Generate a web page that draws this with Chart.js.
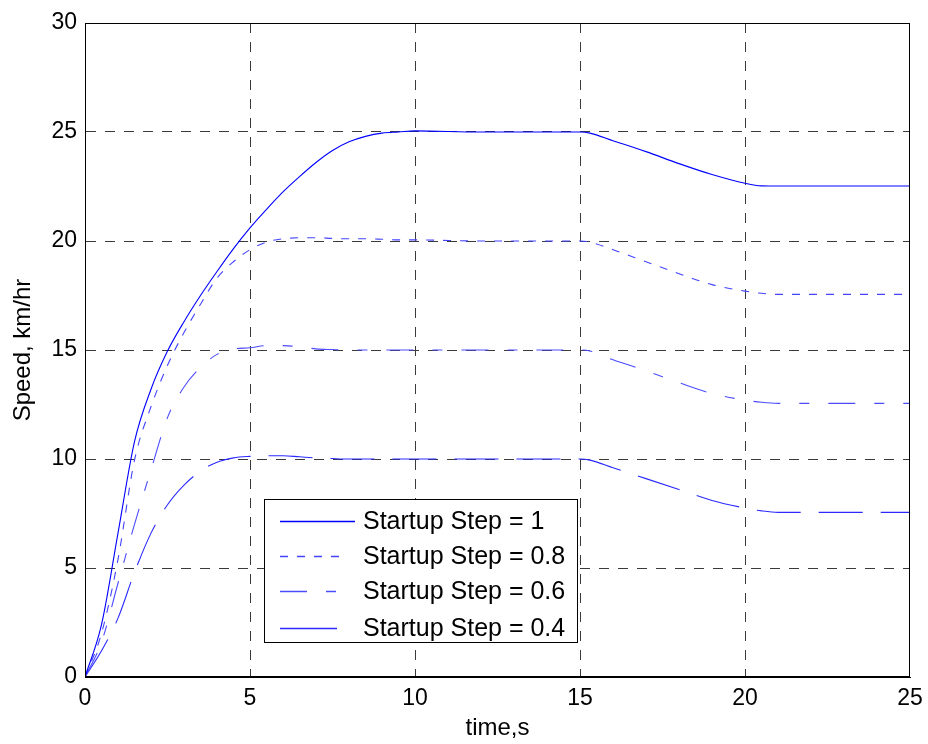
<!DOCTYPE html>
<html>
<head>
<meta charset="utf-8">
<script src="https://cdn.jsdelivr.net/npm/chart.js@4.4.1/dist/chart.umd.min.js"></script>
<style>
  html, body { margin: 0; padding: 0; background: #fff; }
  #wrap { width: 928px; height: 744px; position: relative; }
</style>
</head>
<body>
<div id="wrap"><canvas id="speedChart"></canvas></div>
<script>
// time samples (s) shared by all runs
const timeS = [0, 0.5, 1, 1.5, 2, 2.5, 3, 3.5, 4, 4.5, 5, 5.5, 6, 6.5, 7, 7.5, 8, 8.5, 9, 9.5, 10, 12, 15, 15.3, 16, 17, 18, 19, 20, 20.5, 21, 22, 25];

// speed, km/hr
const step10 = [0, 2.4, 6.6, 10.8, 13.2, 14.95, 16.3, 17.5, 18.6, 19.65, 20.6, 21.45, 22.25, 22.95, 23.6, 24.15, 24.55, 24.8, 24.95, 25.0, 25.05, 25.0, 25.0, 24.95, 24.6, 24.1, 23.55, 23.05, 22.65, 22.53, 22.52, 22.52, 22.52];
const step08 = [0, 2.0, 5.4, 9.95, 12.4, 14.3, 15.8, 17.1, 18.3, 19.05, 19.6, 19.95, 20.1, 20.15, 20.15, 20.12, 20.1, 20.1, 20.08, 20.05, 20.05, 20.0, 20.0, 19.95, 19.6, 19.05, 18.5, 18.0, 17.7, 17.6, 17.55, 17.55, 17.55];
const step06 = [0, 1.6, 4.3, 7.0, 9.5, 11.9, 13.3, 14.2, 14.8, 15.05, 15.1, 15.2, 15.2, 15.15, 15.05, 15.02, 15.0, 15.0, 15.0, 15.0, 15.0, 15.0, 15.0, 14.95, 14.55, 14.05, 13.5, 13.0, 12.7, 12.6, 12.55, 12.55, 12.55];
const step04 = [0, 1.2, 2.7, 4.8, 6.6, 7.9, 8.8, 9.45, 9.85, 10.05, 10.12, 10.15, 10.15, 10.1, 10.05, 10.02, 10.0, 10.0, 10.0, 10.0, 10.0, 10.0, 10.0, 9.95, 9.6, 9.1, 8.6, 8.1, 7.75, 7.62, 7.55, 7.55, 7.55];

const seriesLabels = ['Startup Step = 1', 'Startup Step = 0.8', 'Startup Step = 0.6', 'Startup Step = 0.4'];
const xTicks = [0, 5, 10, 15, 20, 25];
const yTicks = [0, 5, 10, 15, 20, 25, 30];

function pts(vals) {
    return timeS.map((t, i) => ({ x: t, y: vals[i] }));
}

const styles = [
    { color: '#0000ff', dash: [] },
    { color: '#4444ff', dash: [8, 9] },
    { color: '#4c4cff', dash: [27, 19, 10, 19] },
    { color: '#2a2aff', dash: [44, 18] }
];

const FONT = '"Liberation Sans", Arial, sans-serif';

// no dashed grid line on top of the frame edges
function gridColor(c) {
    const s = c.scale;
    if (!c.tick || c.tick.value === s.min || c.tick.value === s.max) return 'rgba(0,0,0,0)';
    return '#3a3a3a';
}

// legend drawn inside the axes, MATLAB style
const legendBox = {
    id: 'legendBox',
    afterDraw(chart) {
        const ctx = chart.ctx;
        const area = chart.chartArea;
        ctx.save();
        // axes frame
        ctx.strokeStyle = '#000';
        ctx.lineWidth = 1;
        ctx.setLineDash([]);
        ctx.strokeRect(area.left + 0.5, area.top + 0.5, area.right - area.left - 1, area.bottom - area.top - 1);

        const x0 = 264, y0 = 499, w = 313, h = 143;
        ctx.fillStyle = '#fff';
        ctx.fillRect(x0, y0, w, h);
        ctx.strokeStyle = '#000';
        ctx.strokeRect(x0 + 0.5, y0 + 0.5, w, h);

        const rows = [521, 556, 591, 628];
        const lineEnds = [355, 348, 337, 337];
        ctx.font = '25px ' + FONT;
        ctx.textBaseline = 'middle';
        chart.data.datasets.forEach((ds, i) => {
            ctx.strokeStyle = ds.borderColor;
            ctx.lineWidth = 1.3;
            ctx.setLineDash(i === 3 ? [] : ds.borderDash);
            ctx.beginPath();
            ctx.moveTo(280, rows[i] + 0.5);
            ctx.lineTo(lineEnds[i], rows[i] + 0.5);
            ctx.stroke();
            ctx.setLineDash([]);
            ctx.fillStyle = '#000';
            ctx.fillText(ds.label, 363, rows[i] + 1);
        });
        ctx.restore();
    }
};

const ctx = document.getElementById('speedChart').getContext('2d');
const speedChart = new Chart(ctx, {
    type: 'line',
    data: {
        datasets: [step10, step08, step06, step04].map((vals, i) => ({
            label: seriesLabels[i],
            data: pts(vals),
            borderColor: styles[i].color,
            borderDash: styles[i].dash,
            borderWidth: 1.1,
            pointRadius: 0,
            fill: false,
            cubicInterpolationMode: 'monotone'
        }))
    },
    options: {
        responsive: true,
        maintainAspectRatio: false,
        animation: false,
        layout: { padding: { top: 23, right: 18, left: 0, bottom: 0 } },
        plugins: {
            legend: { display: false },
            tooltip: { enabled: false }
        },
        scales: {
            x: {
                type: 'linear',
                min: 0,
                max: 25,
                afterBuildTicks: s => { s.ticks = xTicks.map(v => ({ value: v })); },
                afterFit: s => {
                    s.height = 67;
                    s.paddingLeft = 0;
                    s.paddingRight = 0;
                },
                grid: {
                    color: gridColor,
                    drawTicks: false
                },
                border: { display: true, color: '#000', dash: [10, 9] },
                ticks: {
                    color: '#000',
                    padding: 8,
                    font: { family: FONT, size: 23 }
                },
                title: {
                    display: true,
                    text: 'time,s',
                    color: '#000',
                    padding: { top: 0, bottom: 1 },
                    font: { family: FONT, size: 24 }
                }
            },
            y: {
                min: 0,
                max: 30,
                afterBuildTicks: s => { s.ticks = yTicks.map(v => ({ value: v })); },
                afterFit: s => { s.width = 85; },
                grid: {
                    color: gridColor,
                    drawTicks: false
                },
                border: { display: true, color: '#000', dash: [10, 9] },
                ticks: {
                    color: '#000',
                    padding: 8,
                    font: { family: FONT, size: 23 }
                },
                title: {
                    display: true,
                    text: 'Speed, km/hr',
                    color: '#000',
                    padding: { top: 9, bottom: 0 },
                    font: { family: FONT, size: 24 }
                }
            }
        }
    },
    plugins: [legendBox]
});
</script>
</body>
</html>
